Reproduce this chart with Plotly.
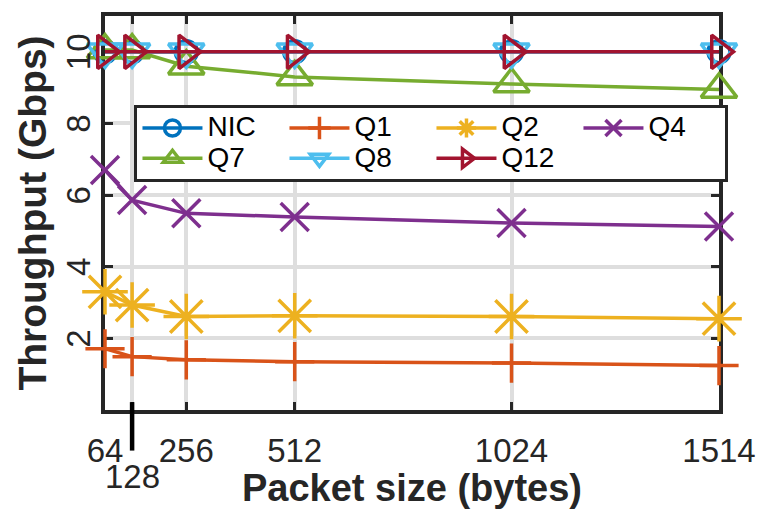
import plotly.graph_objects as go

# Packet sizes (bytes) and measured throughput (Gbps) per configuration
packet_sizes = [64, 128, 256, 512, 1024, 1514]
tick_labels = ["64", "", "256", "512", "1024", "1514"]
y_ticks = [2, 4, 6, 8, 10]

nic = [10.0, 10.0, 10.0, 10.0, 10.0, 10.0]
q1 = [1.71, 1.49, 1.40, 1.35, 1.31, 1.24]
q2 = [3.30, 2.93, 2.61, 2.63, 2.61, 2.55]
q4 = [6.70, 5.86, 5.49, 5.39, 5.22, 5.12]
q7 = [10.05, 10.05, 9.60, 9.30, 9.10, 8.95]
q8 = [10.0, 10.0, 10.0, 10.0, 10.0, 10.0]
q12 = [10.0, 10.0, 10.0, 10.0, 10.0, 10.0]

series = [
    ("NIC", nic, "#0072BD", "circle-open", 22),
    ("Q1", q1, "#D95319", "cross-thin-open", 28),
    ("Q2", q2, "#EDB120", "asterisk-open", 38),
    ("Q4", q4, "#7E2F8E", "x-thin-open", 28),
    ("Q7", q7, "#77AC30", "triangle-up-open", 31),
    ("Q8", q8, "#4DBEEE", "triangle-down-open", 31),
    ("Q12", q12, "#A2142F", "triangle-right-open", 29),
]

FONT = "Liberation Sans, Arial, Helvetica, sans-serif"
AXIS_COLOR = "#262626"

fig = go.Figure()
for name, vals, color, symbol, size in series:
    fig.add_trace(go.Scatter(
        x=packet_sizes, y=vals, mode="lines+markers",
        name=f"<span style='font-size:28px'>{name}</span>",
        line=dict(color=color, width=3.5),
        marker=dict(symbol=symbol, size=size, color=color,
                    line=dict(color=color, width=3.5)),
        cliponaxis=False,
    ))

axis_common = dict(
    showline=True, linecolor=AXIS_COLOR, linewidth=4, mirror="allticks",
    ticks="inside", ticklen=8, tickwidth=3, tickcolor=AXIS_COLOR,
    showgrid=True, gridcolor="#dedede", gridwidth=3.5,
    zeroline=False, layer="below traces",
    tickfont=dict(family=FONT, size=33, color=AXIS_COLOR),
)

fig.update_xaxes(
    range=[64, 1514], tickvals=packet_sizes, ticktext=tick_labels,
    ticklabelstandoff=8,
    title=dict(text="<b>Packet size (bytes)</b>", standoff=2,
               font=dict(family=FONT, size=38, color=AXIS_COLOR)),
    **axis_common,
)
fig.update_yaxes(
    range=[0, 11], tickvals=y_ticks, showticklabels=False,
    title=dict(text="<b>Throughput (Gbps)</b>", standoff=43,
               font=dict(family=FONT, size=39, color=AXIS_COLOR)),
    **axis_common,
)

# Vertical y tick labels
for v in y_ticks:
    fig.add_annotation(x=-27 / 623, y=v, xref="paper", yref="y",
                       text=str(v), textangle=-90, showarrow=False,
                       xanchor="center", yanchor="middle",
                       font=dict(family=FONT, size=33, color=AXIS_COLOR))

# The 128 label sits lower, joined to its tick by a leader line
fig.add_shape(type="line", xref="x", yref="paper", x0=128, x1=128,
              y0=0.02, y1=-0.103, line=dict(color="black", width=4.5))
fig.add_annotation(x=128, y=-0.168, xref="x", yref="paper", text="128",
                   showarrow=False, yanchor="middle",
                   font=dict(family=FONT, size=33, color=AXIS_COLOR))

fig.update_layout(
    width=768, height=509,
    margin=dict(l=105, r=40, t=12, b=89),
    paper_bgcolor="white", plot_bgcolor="white",
    font=dict(family=FONT, color=AXIS_COLOR),
    showlegend=True,
    legend=dict(
        orientation="h", x=0.048, y=0.7745, xanchor="left", yanchor="top",
        bgcolor="white", bordercolor=AXIS_COLOR, borderwidth=3,
        font=dict(family=FONT, size=21, color="black"),
        entrywidth=72, entrywidthmode="pixels",
        itemwidth=60, tracegroupgap=0,
    ),
)

fig.write_html("out.html")
